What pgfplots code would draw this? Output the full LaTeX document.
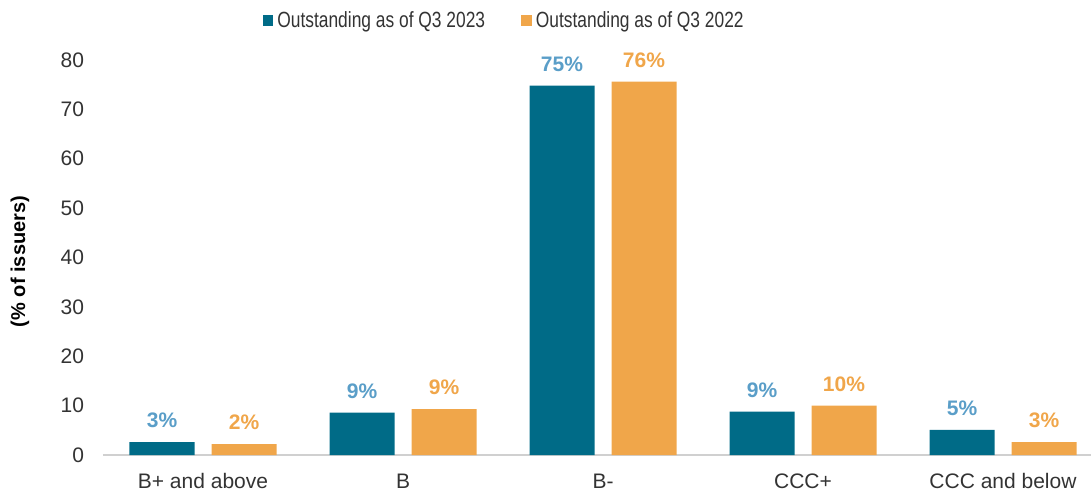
\documentclass[border=0pt]{standalone}
\usepackage{fontspec}
\setmainfont{Liberation Sans}
\newfontfamily\legfont[FakeStretch=0.79]{Liberation Sans}
\usepackage{pgfplots}
\pgfplotsset{compat=1.18}
\definecolor{barteal}{HTML}{006B87}
\definecolor{barorange}{HTML}{F0A64A}
\definecolor{lblteal}{HTML}{5A9EC8}
\definecolor{txt}{HTML}{333333}
\definecolor{axgray}{HTML}{D0D0D0}
\begin{document}
\begin{tikzpicture}
\begin{axis}[
  scale only axis, width=494pt, height=197.5pt,
  ybar=8.5pt, bar width=32.5pt,
  xmin=-0.5, xmax=4.44, ymin=0, ymax=80,
  clip=false,
  axis lines*=left,
  x axis line style={draw=axgray, line width=0.6pt},
  y axis line style={draw=none},
  xtick={0,...,4},
  xticklabels={B+ and above,B,B-,CCC+,CCC and below},
  x tick style={draw=none},
  extra x ticks={-0.5,0.5,1.5,2.5,3.5},
  extra x tick labels={},
  extra x tick style={tick style={draw=axgray, line width=0.6pt}, major tick length=5pt, tick align=outside},
  ytick={0,10,...,80},
  y tick style={draw=none},
  /pgf/number format/assume math mode=true,
  tick label style={font=\fontsize{10.5}{12}\selectfont, text=txt},
  yticklabel style={xshift=-6pt},
  xticklabel style={yshift=-1.5pt},
  ylabel={(\% of issuers)},
  ylabel style={font=\bfseries\fontsize{10}{12}\selectfont, text=black, at={(axis description cs:-0.084,0.49)}, anchor=center, rotate=0},
  nodes near coords={\pgfmathprintnumber{\pgfplotspointmeta}\%},
  point meta=explicit,
  nodes near coords style={font=\bfseries\fontsize{10.5}{12}\selectfont, yshift=3.5pt},
  legend columns=2,
  legend style={at={(0.407,1.099)}, anchor=center, draw=none, fill=none,
    font=\legfont\fontsize{11}{12}\selectfont, text=txt,
    /tikz/every even column/.append style={column sep=16pt}},
  legend image code/.code={\fill[#1] (0pt,-2.7pt) rectangle (5.4pt,2.7pt);},
]
\addplot[draw=none, fill=barteal, every node near coord/.append style={text=lblteal}]
  coordinates {(0,2.6) [3] (1,8.6) [9] (2,74.8) [75] (3,8.8) [9] (4,5.1) [5]};
\addplot[draw=none, fill=barorange, every node near coord/.append style={text=barorange}]
  coordinates {(0,2.2) [2] (1,9.3) [9] (2,75.6) [76] (3,10.0) [10] (4,2.6) [3]};
\legend{Outstanding as of Q3 2023, Outstanding as of Q3 2022}
\coordinate (O) at (rel axis cs:0,0);
\end{axis}
\pgfresetboundingbox
\path[use as bounding box] (O) ++(-51.5pt,-19pt) rectangle ++(545.5pt,246.5pt);
\end{tikzpicture}
\end{document}
